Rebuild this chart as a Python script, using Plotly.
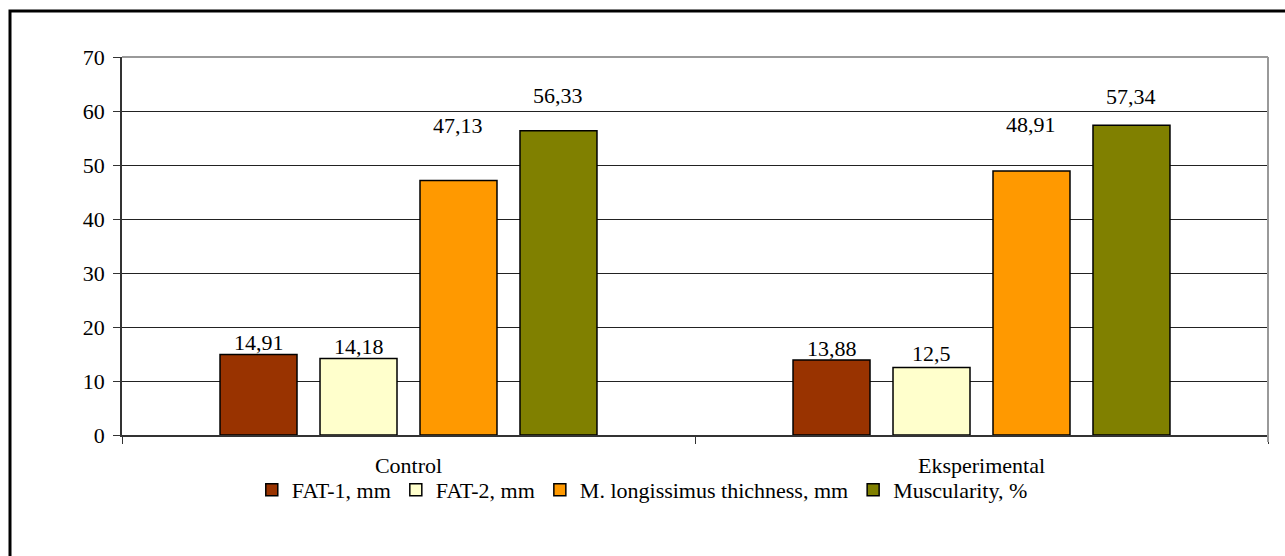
import plotly.graph_objects as go

categories = ["Control", "Eksperimental"]
series_names = ["FAT-1, mm", "FAT-2, mm", "M. longissimus thichness, mm", "Muscularity, %"]
fat1 = [14.91, 13.88]
fat2 = [14.18, 12.5]
mlong = [47.13, 48.91]
musc = [56.33, 57.34]
colors = ["#993300", "#FFFFCC", "#FF9900", "#808000"]
yticks = [0, 10, 20, 30, 40, 50, 60, 70]

# style: vertical pixel offset of each value label above its bar top
label_shift = [[12, 12], [12, 14], [55, 46], [35, 29]]

W, H = 1285, 556
L, R, T, B = 122, 17, 57, 121
FONT = "Liberation Serif"
FS = 22
BARGAP = 0.302

def fmt(v):
    s = ("%.2f" % v).rstrip("0").rstrip(".")
    return s.replace(".", ",")

fig = go.Figure()
all_vals = [fat1, fat2, mlong, musc]
annotations = []
slot = (1 - BARGAP) / len(all_vals)
for si, (name, vals, c) in enumerate(zip(series_names, all_vals, colors)):
    fig.add_trace(go.Bar(
        x=categories, y=vals, name=name,
        marker=dict(color=c, line=dict(color="black", width=1.5)),
        hoverinfo="y",
    ))
    for ci, v in enumerate(vals):
        annotations.append(dict(
            x=ci + (si - (len(all_vals) - 1) / 2) * slot, y=v, xref="x", yref="y",
            text=fmt(v), showarrow=False, yanchor="middle", yshift=label_shift[si][ci],
            font=dict(family=FONT, size=FS, color="black"),
        ))

pw = W - L - R
ph = H - T - B
fig.update_layout(
    width=W, height=H,
    margin=dict(l=L, r=R, t=T, b=B, autoexpand=False),
    paper_bgcolor="white", plot_bgcolor="white",
    barmode="group", bargap=BARGAP, bargroupgap=0.23,
    font=dict(family=FONT, size=FS, color="black"),
    showlegend=True,
    legend=dict(orientation="h", x=0.454, xanchor="center", y=-0.09, yanchor="top",
                font=dict(family=FONT, size=FS, color="black"), bgcolor="rgba(0,0,0,0)",
                itemwidth=30, tracegroupgap=0, traceorder="normal"),
    xaxis=dict(type="category", showgrid=False, showline=True, linecolor="#333333", linewidth=2,
               ticks="outside", tickson="boundaries", ticklen=7, tickcolor="#333333",
               tickfont=dict(family=FONT, size=FS), ticklabelstandoff=10,
               range=[-0.5, 1.5]),
    yaxis=dict(range=[0, 70], tickvals=yticks, showgrid=True, gridcolor="#222222", gridwidth=1,
               showline=True, linecolor="#333333", linewidth=1.5, ticks="outside", ticklen=7,
               tickcolor="#333333", tickfont=dict(family=FONT, size=FS), zeroline=False,
               ticklabelstandoff=4),
    annotations=annotations,
    shapes=[
        dict(type="line", xref="paper", yref="paper", x0=0, x1=1, y0=1, y1=1,
             line=dict(color="#999999", width=2)),
        dict(type="line", xref="paper", yref="paper", x0=1, x1=1, y0=1, y1=-7/ph,
             line=dict(color="#999999", width=2)),
        dict(type="rect", xref="paper", yref="paper",
             x0=(10 - L) / pw, x1=(W + 20 - L) / pw,
             y0=-(H + 20 - T - ph) / ph, y1=1 + (T - 11) / ph,
             line=dict(color="black", width=3), layer="above"),
    ],
)
fig.write_html("out.html", config={"displayModeBar": False},
               post_script="document.body.style.margin='0';document.body.style.overflow='hidden';")
